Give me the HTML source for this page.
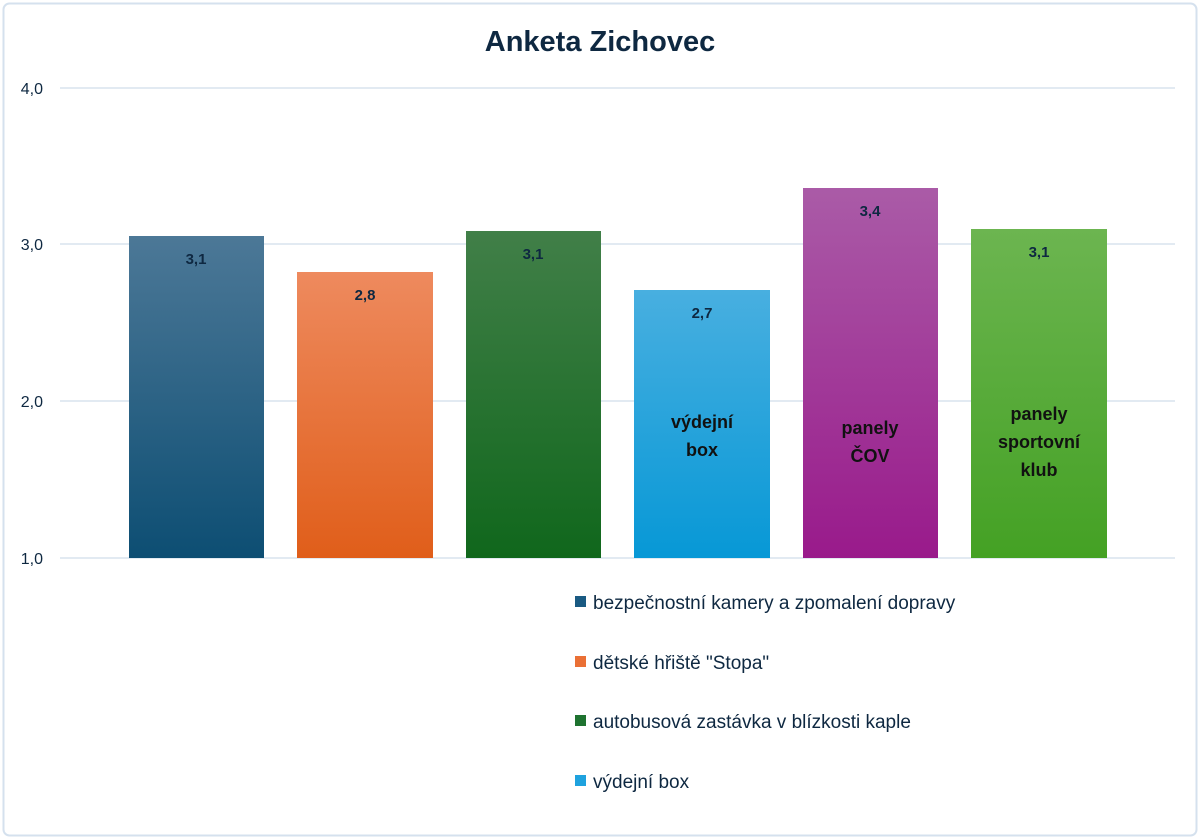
<!DOCTYPE html>
<html><head><meta charset="utf-8"><style>
html,body{margin:0;padding:0;background:#fff;}
svg{display:block;font-family:"Liberation Sans",sans-serif;}
</style></head><body>
<svg width="1200" height="839" viewBox="0 0 1200 839">
<defs>
<linearGradient id="g1" x1="0" y1="0" x2="0" y2="1"><stop offset="0" stop-color="#4c7897"/><stop offset="1" stop-color="#0d4e73"/></linearGradient>
<linearGradient id="g2" x1="0" y1="0" x2="0" y2="1"><stop offset="0" stop-color="#ee8a5e"/><stop offset="1" stop-color="#e05e1a"/></linearGradient>
<linearGradient id="g3" x1="0" y1="0" x2="0" y2="1"><stop offset="0" stop-color="#417f48"/><stop offset="1" stop-color="#10671c"/></linearGradient>
<linearGradient id="g4" x1="0" y1="0" x2="0" y2="1"><stop offset="0" stop-color="#48afe0"/><stop offset="1" stop-color="#0798d6"/></linearGradient>
<linearGradient id="g5" x1="0" y1="0" x2="0" y2="1"><stop offset="0" stop-color="#aa5ba7"/><stop offset="1" stop-color="#991a8b"/></linearGradient>
<linearGradient id="g6" x1="0" y1="0" x2="0" y2="1"><stop offset="0" stop-color="#6cb550"/><stop offset="1" stop-color="#44a124"/></linearGradient>
</defs>
<rect x="3.5" y="3.5" width="1193" height="832" rx="6" fill="#fff" stroke="#d5e1ee" stroke-width="2"/>
<text x="600" y="51" text-anchor="middle" font-size="29" font-weight="bold" fill="#0e2841">Anketa Zichovec</text>
<g stroke="#d9e3ee" stroke-width="1.5">
<line x1="60" y1="88" x2="1175" y2="88"/>
<line x1="60" y1="244" x2="1175" y2="244"/>
<line x1="60" y1="401" x2="1175" y2="401"/>
<line x1="60" y1="558" x2="1175" y2="558"/>
</g>
<g font-size="16" fill="#0e2841" text-anchor="end">
<text x="43" y="94">4,0</text>
<text x="43" y="250">3,0</text>
<text x="43" y="407">2,0</text>
<text x="43" y="564">1,0</text>
</g>
<rect x="129" y="236" width="135" height="322" fill="url(#g1)"/>
<rect x="297" y="272" width="136" height="286" fill="url(#g2)"/>
<rect x="466" y="231" width="135" height="327" fill="url(#g3)"/>
<rect x="634" y="290" width="136" height="268" fill="url(#g4)"/>
<rect x="803" y="188" width="135" height="370" fill="url(#g5)"/>
<rect x="971" y="229" width="136" height="329" fill="url(#g6)"/>
<g font-size="15" font-weight="bold" fill="#0e2841" text-anchor="middle">
<text x="196" y="264">3,1</text>
<text x="365" y="300">2,8</text>
<text x="533" y="259">3,1</text>
<text x="702" y="318">2,7</text>
<text x="870" y="216">3,4</text>
<text x="1039" y="257">3,1</text>
</g>
<g font-size="18" font-weight="bold" fill="#111" text-anchor="middle">
<text x="702" y="428">výdejní</text>
<text x="702" y="456">box</text>
<text x="870" y="434">panely</text>
<text x="870" y="462">ČOV</text>
<text x="1039" y="420">panely</text>
<text x="1039" y="448">sportovní</text>
<text x="1039" y="476">klub</text>
</g>
<g font-size="19" fill="#0e2841">
<rect x="575" y="596" width="11" height="11" fill="#1a5a82"/>
<text x="593" y="609">bezpečnostní kamery a zpomalení dopravy</text>
<rect x="575" y="656" width="11" height="11" fill="#ea7035"/>
<text x="593" y="669">dětské hřiště "Stopa"</text>
<rect x="575" y="715" width="11" height="11" fill="#1e7330"/>
<text x="593" y="728">autobusová zastávka v blízkosti kaple</text>
<rect x="575" y="775" width="11" height="11" fill="#1fa2de"/>
<text x="593" y="788">výdejní box</text>
</g>
</svg>
</body></html>
